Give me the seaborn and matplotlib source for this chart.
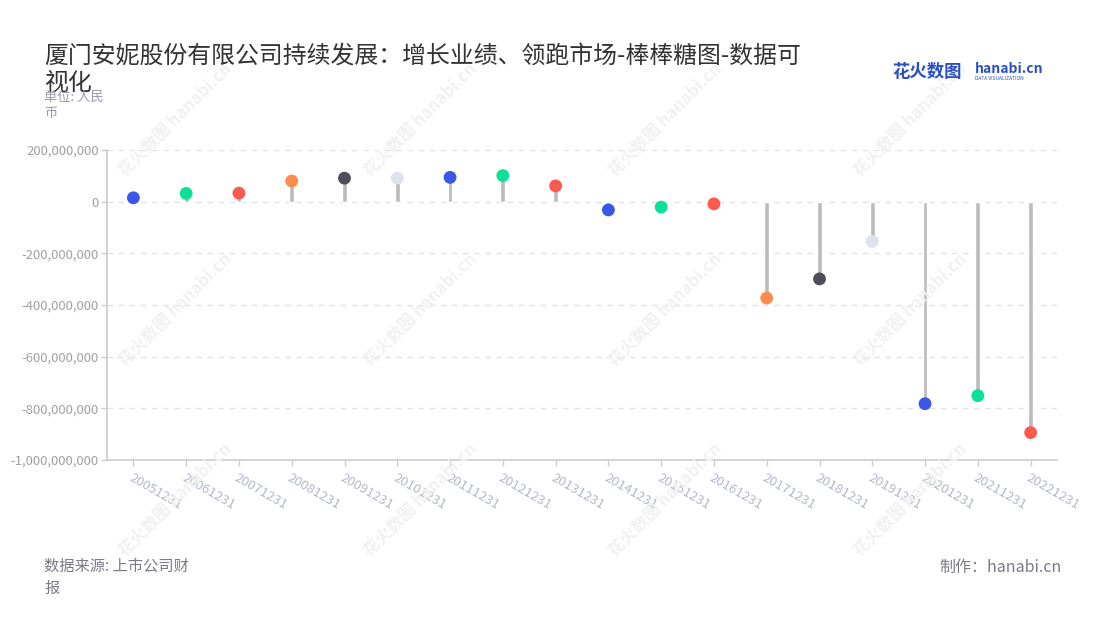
import matplotlib
matplotlib.use("Agg")
import matplotlib.pyplot as plt
import seaborn as sns
import pandas as pd
from matplotlib.ticker import FuncFormatter

categories = ["20051231", "20061231", "20071231", "20081231", "20091231", "20101231",
              "20111231", "20121231", "20131231", "20141231", "20151231", "20161231",
              "20171231", "20181231", "20191231", "20201231", "20211231", "20221231"]
values = [15e6, 32e6, 33e6, 80e6, 91e6, 91e6, 94e6, 101e6, 61e6, -32e6, -21e6, -8.5e6,
          -373e6, -299e6, -154e6, -782e6, -751e6, -894e6]
dot_colors = ["#3a57e8", "#0be09b", "#fb5a4f", "#ff8b4e", "#4e4e5a", "#dde2ec",
              "#3a57e8", "#0be09b", "#fb5a4f", "#3a57e8", "#0be09b", "#fb5a4f",
              "#ff8b4e", "#4e4e5a", "#dde2ec", "#3a57e8", "#0be09b", "#fb5a4f"]
y_ticks = [200e6, 0, -200e6, -400e6, -600e6, -800e6, -1000e6]

title = "厦门安妮股份有限公司持续发展：增长业绩、领跑市场-棒棒糖图-数据可\n视化"
unit = "单位: 人民\n币"
source = "数据来源: 上市公司财\n报"
maker = "制作：hanabi.cn"

df = pd.DataFrame({"date": categories, "value": values})

sns.set_theme(style="white")
plt.rcParams["font.family"] = ["Noto Sans CJK SC", "DejaVu Sans"]

fig = plt.figure(figsize=(11, 6.2), dpi=100)
ax = fig.add_axes([107 / 1100, 1 - 460 / 620, 950 / 1100, 310 / 620])

# watermarks
for wx in [175, 420, 665, 910]:
    for wy in [120, 310, 500]:
        fig.text(wx / 1100, 1 - wy / 620, "花火数图 hanabi.cn", rotation=45,
                 ha="center", va="center", fontsize=12, color="#f1f1f1",
                 fontweight="bold", zorder=0)

ax.set_facecolor("none")
for yv in y_ticks:
    ax.axhline(yv, color="#e2e2e2", lw=1, ls=(0, (4, 4)), zorder=0)

sns.barplot(data=df, x="date", y="value", color="#bbbbbb", width=0.09,
            saturation=1, ax=ax, zorder=2)
sns.scatterplot(data=df, x="date", y="value", hue="date", palette=dot_colors,
                s=85, edgecolor="none", legend=False, ax=ax, zorder=3)

ax.set_ylim(-1000e6, 200e6)
ax.set_xlim(-0.5, len(categories) - 0.5)
ax.set_yticks(y_ticks)
ax.yaxis.set_major_formatter(FuncFormatter(lambda v, p: f"{int(v):,}"))
ax.set_xlabel("")
ax.set_ylabel("")

for s in ["top", "right"]:
    ax.spines[s].set_visible(False)
for s in ["left", "bottom"]:
    ax.spines[s].set_color("#cccccc")
    ax.spines[s].set_linewidth(1.2)

ax.tick_params(axis="y", colors="#cccccc", labelcolor="#a0a0a0", labelsize=9.5,
               length=4, width=1, left=True, pad=2)
ax.tick_params(axis="x", colors="#cccccc", labelcolor="#b4b8c8", labelsize=9.5,
               length=4, width=1, bottom=True, pad=4)
plt.setp(ax.get_xticklabels(), rotation=-30, ha="left", va="top",
         rotation_mode="anchor")

fig.text(44 / 1100, 1 - 70 / 620, title, fontsize=17.2, color="#333333",
         ha="left", va="center", linespacing=1.2)
fig.text(44 / 1100, 1 - 105 / 620, unit, fontsize=9.5, color="#9a9aa8",
         ha="left", va="center", linespacing=1.3)
fig.text(44 / 1100, 1 - 577 / 620, source, fontsize=11, color="#7a7a88",
         ha="left", va="center", linespacing=1.4)
fig.text(1062 / 1100, 1 - 567 / 620, maker, fontsize=11.5, color="#7a7a88",
         ha="right", va="center")

# logo
fig.text(892 / 1100, 1 - 72 / 620, "花火数图", fontsize=12.5, color="#2a4fc4",
         fontweight="bold", ha="left", va="center")
fig.text(975 / 1100, 1 - 69 / 620, "hanabi.cn", fontsize=10, color="#2a4fc4",
         fontweight="bold", ha="left", va="center")
fig.text(975 / 1100, 1 - 79 / 620, "DATA VISUALIZATION", fontsize=3.5,
         color="#2a4fc4", ha="left", va="center")

fig.savefig("out.png", dpi=100)
